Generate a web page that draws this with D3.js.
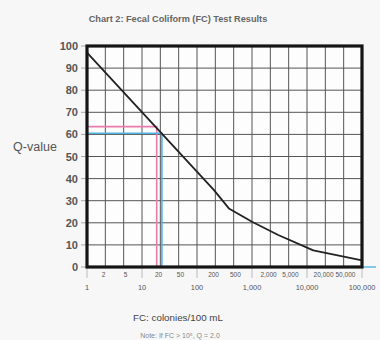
<!DOCTYPE html>
<html>
<head>
<meta charset="utf-8">
<script src="https://cdn.jsdelivr.net/npm/d3@7"></script>
<style>
  html, body { margin: 0; padding: 0; background: #f7f7f7; }
  #chart { width: 380px; height: 340px; }
  text { font-family: Arial, "Liberation Sans", sans-serif; }
</style>
</head>
<body>
<div id="chart"></div>
<script>
// FC colonies/100 mL vs Q-value
const fcValues = [1, 200, 380, 1000, 3000, 13000, 100000];
const qValues = [97, 35, 26.5, 20.5, 14.5, 7.5, 3];

// reading guides drawn on the chart (pink and blue)
const pinkGuide = { fc: 18.5, q: 63.5 };
const blueGuide = { fc: 23, q: 60.5 };
const blueTail = [100000, 180000];

const yTicks = [0, 10, 20, 30, 40, 50, 60, 70, 80, 90, 100];
const decadeTicks = [1, 10, 100, 1000, 10000, 100000];
const minorLabels = [2, 5, 20, 50, 200, 500, 2000, 5000, 20000, 50000];

const width = 380, height = 340;
const plot = { left: 87, right: 362, top: 46, bottom: 267 };

const svg = d3.select('#chart')
  .append('svg')
  .attr('width', width)
  .attr('height', height);

const x = d3.scaleLog().domain([1, 100000]).range([plot.left, plot.right]);
const y = d3.scaleLinear().domain([0, 100]).range([plot.bottom, plot.top]);
const fmt = d3.format(',');

// plot background
svg.append('rect')
  .attr('x', plot.left).attr('y', plot.top)
  .attr('width', plot.right - plot.left).attr('height', plot.bottom - plot.top)
  .attr('fill', '#fdfdfd');

// vertical grid: three lines per decade
const gridX = d3.range(0, 16).map(k => Math.pow(10, k / 3));
svg.append('g')
  .selectAll('line')
  .data(gridX)
  .enter()
  .append('line')
  .attr('x1', d => x(d)).attr('x2', d => x(d))
  .attr('y1', plot.top).attr('y2', plot.bottom)
  .attr('stroke', '#555')
  .attr('stroke-width', 1);

// horizontal grid
svg.append('g')
  .selectAll('line')
  .data(yTicks)
  .enter()
  .append('line')
  .attr('x1', plot.left).attr('x2', plot.right)
  .attr('y1', d => y(d)).attr('y2', d => y(d))
  .attr('stroke', '#555')
  .attr('stroke-width', 1);

// y axis ticks + labels
svg.append('g')
  .selectAll('line')
  .data(yTicks)
  .enter()
  .append('line')
  .attr('x1', plot.left - 6).attr('x2', plot.left)
  .attr('y1', d => y(d)).attr('y2', d => y(d))
  .attr('stroke', '#aaa');

svg.append('g')
  .selectAll('text')
  .data(yTicks)
  .enter()
  .append('text')
  .attr('x', 78)
  .attr('y', d => y(d) + 4)
  .attr('text-anchor', 'end')
  .style('font-size', '11px')
  .style('font-weight', 'bold')
  .style('fill', '#555')
  .text(d => d);

// decade ticks under the frame
svg.append('g')
  .selectAll('line')
  .data(decadeTicks)
  .enter()
  .append('line')
  .attr('x1', d => x(d)).attr('x2', d => x(d))
  .attr('y1', plot.bottom).attr('y2', plot.bottom + 11)
  .attr('stroke', '#bbb');

// x labels, two rows
svg.append('g')
  .selectAll('text')
  .data(minorLabels)
  .enter()
  .append('text')
  .attr('x', d => x(d))
  .attr('y', 276.5)
  .attr('text-anchor', 'middle')
  .style('font-size', '6.5px')
  .style('fill', '#555')
  .text(d => fmt(d));

svg.append('g')
  .selectAll('text')
  .data(decadeTicks)
  .enter()
  .append('text')
  .attr('x', d => x(d))
  .attr('y', 290)
  .attr('text-anchor', 'middle')
  .style('font-size', '7.4px')
  .style('fill', '#555')
  .text(d => fmt(d));

// reading guides
const guides = [
  { g: pinkGuide, color: '#e77bb0' },
  { g: blueGuide, color: '#4fb3e3' }
];
guides.forEach(({ g, color }) => {
  svg.append('path')
    .attr('d', `M${x(1)},${y(g.q)}H${x(g.fc)}V${y(0)}`)
    .attr('fill', 'none')
    .attr('stroke', color)
    .attr('stroke-width', 1.6);
});
svg.append('line')
  .attr('x1', x(blueTail[0])).attr('x2', x(blueTail[1]))
  .attr('y1', y(0)).attr('y2', y(0))
  .attr('stroke', '#4fb3e3')
  .attr('stroke-width', 1.4);

// the curve
const line = d3.line()
  .x((d, i) => x(fcValues[i]))
  .y(d => y(d));
svg.append('path')
  .datum(qValues)
  .attr('d', line)
  .attr('fill', 'none')
  .attr('stroke', '#222')
  .attr('stroke-width', 1.8)
  .attr('stroke-linejoin', 'round');

// heavy frame
svg.append('rect')
  .attr('x', plot.left).attr('y', plot.top)
  .attr('width', plot.right - plot.left).attr('height', plot.bottom - plot.top)
  .attr('fill', 'none')
  .attr('stroke', '#151515')
  .attr('stroke-width', 3.2);

// titles
svg.append('text')
  .attr('x', 178).attr('y', 22)
  .attr('text-anchor', 'middle')
  .style('font-size', '9.2px')
  .style('font-weight', 'bold')
  .style('fill', '#666')
  .text('Chart 2: Fecal Coliform (FC) Test Results');

svg.append('text')
  .attr('x', 35).attr('y', 151)
  .attr('text-anchor', 'middle')
  .style('font-size', '12.5px')
  .style('fill', '#555')
  .text('Q-value');

svg.append('text')
  .attr('x', 178).attr('y', 321)
  .attr('text-anchor', 'middle')
  .style('font-size', '9.8px')
  .style('fill', '#444')
  .text('FC: colonies/100 mL');

svg.append('text')
  .attr('x', 180).attr('y', 338)
  .attr('text-anchor', 'middle')
  .style('font-size', '7px')
  .style('fill', '#888')
  .text('Note: If FC > 10⁵, Q = 2.0');
</script>
</body>
</html>
